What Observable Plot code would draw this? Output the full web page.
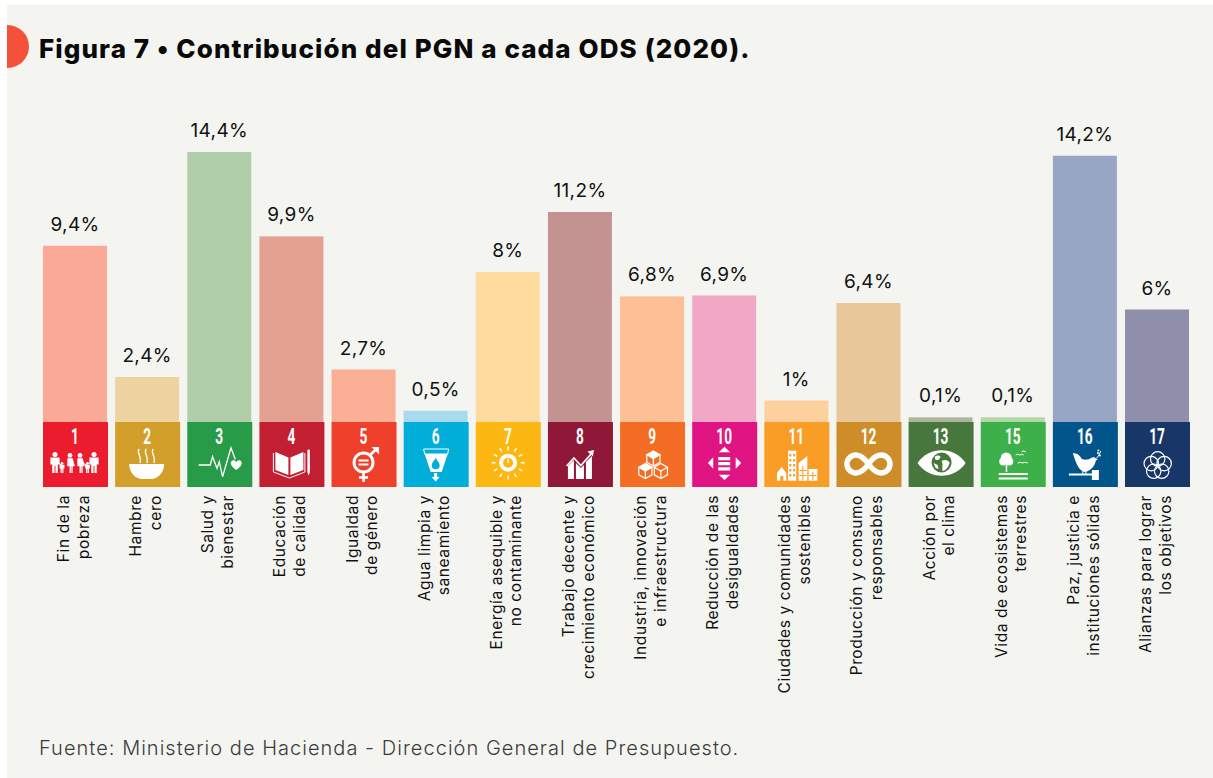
<!DOCTYPE html>
<html lang="es">
<head>
<meta charset="utf-8">
<script src="https://cdn.jsdelivr.net/npm/d3@7"></script>
<script src="https://cdn.jsdelivr.net/npm/@observablehq/plot@0.6"></script>
<style>
  html, body { margin: 0; padding: 0; background: #fff; width: 1213px; height: 778px; overflow: hidden; }
  #panel { position: absolute; left: 7px; top: 5px; width: 1206px; height: 773px; background: #f4f5f1; overflow: hidden; }
  #dot { position: absolute; left: -21.5px; top: 20px; width: 43px; height: 43px; border-radius: 50%; background: #f4503a; }
  #title { position: absolute; left: 32px; top: 28px; margin: 0; font: 800 26px Inter, sans-serif; letter-spacing: 1.1px; color: #0a0a0a; white-space: nowrap; }
  #source { position: absolute; left: 32px; top: 731px; margin: 0; font: 300 20px Inter, sans-serif; letter-spacing: 1.03px; color: #3c3c3c; white-space: nowrap; }
  #chart { position: absolute; left: 0; top: 0; }
  #chart svg { display: block; background: transparent; }
  .share-label text { letter-spacing: 0.35px; }
  .goal-name text { letter-spacing: 0.6px; }
</style>
</head>
<body>
<div id="panel">
  <div id="dot"></div>
  <h1 id="title">Figura 7 • Contribución del PGN a cada ODS (2020).</h1>
  <p id="source">Fuente: Ministerio de Hacienda - Dirección General de Presupuesto.</p>
</div>
<div id="chart"></div>
<script>
const goals = ["1","2","3","4","5","6","7","8","9","10","11","12","13","15","16","17"];
const shares = [9.4,2.4,14.4,9.9,2.8,0.6,8,11.2,6.7,6.75,1.15,6.35,0.25,0.25,14.2,6];
const shareLabels = ["9,4%","2,4%","14,4%","9,9%","2,7%","0,5%","8%","11,2%","6,8%","6,9%","1%","6,4%","0,1%","0,1%","14,2%","6%"];
const names = [
  "Fin de la\npobreza","Hambre\ncero","Salud y\nbienestar","Educación\nde calidad",
  "Igualdad\nde género","Agua limpia y\nsaneamiento","Energía asequible y\nno contaminante",
  "Trabajo decente y\ncrecimiento económico","Industria, innovación\ne infraestructura",
  "Reducción de las\ndesigualdades","Ciudades y comunidades\nsostenibles",
  "Producción y consumo\nresponsables","Acción por\nel clima","Vida de ecosistemas\nterrestres",
  "Paz, justicia e\ninstituciones sólidas","Alianzas para lograr\nlos objetivos"
];
const tileColors = ["#eb1c2d","#d19f2a","#279b48","#c31f33","#ef402b","#00aed9","#fdb713","#8f1838","#f36d25","#e11484","#f99d26","#cf8d2a","#48773e","#3eb049","#02558b","#183668"];
const barColors = ["#f9a995","#edd3a0","#b0ceaa","#e4a192","#fbb095","#a8d9ef","#fedb9f","#c39392","#fcbf96","#f0a8c6","#fdd19d","#e8c89a","#adb69c","#b3d8a5","#98a6c5","#8f8fab"];

const rows = goals.map((goal, i) => ({goal, share: shares[i], label: shareLabels[i], name: names[i], tile: tileColors[i], bar: barColors[i]}));

/* ---------- SDG pictograms, in a 65×65 tile-local system (white glyphs) ---------- */
const person = (cx, top, h, skirt) => {
  const r = h * 0.12, w = h * 0.22;
  const body = skirt
    ? `M${cx - w * .6} ${top + h * .26}h${w * 1.2}l${w * .5} ${h * .4}h${-w * .5}v${h * .34}h${-w * .3}v${-h * .34}h${-w * .1}v${h * .34}h${-w * .3}v${-h * .34}h${-w * .5}z`
    : `M${cx - w} ${top + h * .26}h${w * 2}v${h * .34}h${-w * .4}v${h * .4}h${-w * .5}v${-h * .34}h${-w * .2}v${h * .34}h${-w * .5}v${-h * .4}h${-w * .4}z`;
  return `<circle cx="${cx}" cy="${top + r}" r="${r}"/><path d="${body}"/>`;
};
const hexCube = (cx, cy, r, fillTop) => {
  const dx = r * 0.866, dy = r * 0.5;
  const top = `M${cx} ${cy - r}L${cx + dx} ${cy - dy}L${cx} ${cy}L${cx - dx} ${cy - dy}Z`;
  return `<path d="${top}" fill="${fillTop ? "#fff" : "none"}" stroke="#fff" stroke-width="1.2"/>` +
    `<path d="M${cx - dx} ${cy - dy}V${cy + dy}L${cx} ${cy + r}L${cx + dx} ${cy + dy}V${cy - dy}M${cx} ${cy}V${cy + r}" fill="none" stroke="#fff" stroke-width="1.2"/>`;
};
const sunRays = d3.range(12).map(i => {
  const a = i * Math.PI / 6, c = Math.cos(a), s = Math.sin(a);
  return `M${32.3 + 12.5 * c} ${40.7 + 12.5 * s}L${32.3 + 16.5 * c} ${40.7 + 16.5 * s}`;
}).join("");
const flower = d3.range(5).map(i => {
  const a = -Math.PI / 2 + i * 2 * Math.PI / 5;
  return `<circle cx="${32.7 + 6.8 * Math.cos(a)}" cy="${43.7 + 6.8 * Math.sin(a)}" r="7.2"/>`;
}).join("");
const icons = {
  "1": person(12, 30, 21) + person(27, 31, 20, true) + person(37, 31, 20, true) + person(51, 30, 21) + person(19, 40, 11) + person(44.5, 40, 11) +
       `<path d="M14 41L19 43M24 43L27 41M39 41L44 43M49 43L51 41" stroke="#fff" stroke-width="1"/>`,
  "2": `<path d="M14 42H49C49 51 42 57 36 57H27C21 57 14 51 14 42Z"/><path d="M24 27C21 31 27 34 25 41M31 27C28 31 34 34 32 41M38 27C35 31 41 34 39 41" fill="none" stroke="#fff" stroke-width="1.4"/>`,
  "3": `<path d="M11.3 43H23L25.3 34.7L29.7 46.3L32 39.7L35.3 54.7L43.7 25.7L48 37.3" fill="none" stroke="#fff" stroke-width="1.3"/><path d="M49 48C45 45 43.5 43 43.5 41C43.5 38 47.5 37 49 40C50.5 37 54.5 38 54.5 41C54.5 43 53 45 49 48Z"/>`,
  "4": `<path d="M16 30L29 35.5V53L16 48Z"/><path d="M31 35.5L44 30V48L31 53Z"/><path d="M14 31V50L30 56L45.5 50V31" fill="none" stroke="#fff" stroke-width="1"/><path d="M48 28.5A1.3 1.3 0 0 1 50.5 28.5V50L49.2 53.5L48 50Z"/>`,
  "5": `<circle cx="32" cy="40.5" r="9.5" fill="none" stroke="#fff" stroke-width="3"/><path d="M27 37.5H37V39.5H27ZM27 41.5H37V43.5H27Z"/><path d="M32 50V60M27.5 55.5H36.5" stroke="#fff" stroke-width="2.6" fill="none"/><path d="M38.5 33L46 26" stroke="#fff" stroke-width="2.8"/><path d="M40 25H47.5V32.5Z"/>`,
  "6": `<path d="M21 32H44L38 50H27Z"/><path d="M20 27H45L44 32H21Z" fill="none" stroke="#fff" stroke-width="1"/><path d="M30.5 51H33.5V55H36L32 59.5L28 55H30.5Z"/><path d="M32 36C30 39.5 28 41 28 43.3A4 4 0 0 0 36 43.3C36 41 34 39.5 32 36Z" fill="#00aed9"/>`,
  "7": `<circle cx="32.3" cy="40.7" r="9"/><circle cx="32.3" cy="40.7" r="5" fill="#fdb713"/><path d="M32.3 36.7V41" stroke="#fff" stroke-width="1.4"/><path d="${sunRays}" stroke="#fff" stroke-width="1.4" fill="none"/>`,
  "8": `<path d="M20 44L26 38V57H20ZM28 41L33 46L36 43V57H28ZM38 40L44 34V57H38Z"/><path d="M18.7 44L26 36L33 43.5L44 31" fill="none" stroke="#fff" stroke-width="1.8"/><path d="M39.5 29.5L46 28L45 34.5Z"/>`,
  "9": hexCube(33.3, 36.5, 7.6, true) + hexCube(25.3, 49, 7.6, true) + hexCube(40.8, 49, 7.6, false),
  "10": `<path d="M26 35H38V38.3H26ZM26 40H38V43.3H26ZM26 45.2H38V48.5H26Z"/><path d="M32.3 24.7L38 30.3H26.6ZM32.3 58L38 52.7H26.6ZM15.7 41L21 35.3V46.7ZM49 41L43.5 35.3V46.7Z"/>`,
  "11": `<path d="M12.7 51L17.3 45L22 51V58.7H19V54H16V58.7H12.7Z"/><path d="M23.7 28.7H32V58.7H23.7Z"/><path d="M34.3 41L43 34V58.7H34.3Z"/><path d="M44.3 47H53V58.7H44.3Z"/><path d="M25 32h2v2.5h-2zM28.8 32h2v2.5h-2zM25 37h2v2.5h-2zM28.8 37h2v2.5h-2zM25 42h2v2.5h-2zM28.8 42h2v2.5h-2zM25 47h2v2.5h-2zM28.8 47h2v2.5h-2zM25 52h2v2.5h-2zM28.8 52h2v2.5h-2zM38 44h1v14h-1zM35 48h7v1h-7zM35 53h7v1h-7zM48 50h1v8h-1zM45 53h7v1h-7z" fill="#f99d26"/>`,
  "12": `<path d="M32 42C27 35 23.5 33 19.5 33A9 9 0 0 0 19.5 51C24 51 27.5 48.5 32 42C36.5 35.5 40 33 44.5 33A9 9 0 0 1 44.5 51C40.5 51 37 49 32 42Z" fill="none" stroke="#fff" stroke-width="5.5"/>`,
  "13": `<path d="M9 41C20 24 46 24 57 41C46 58 20 58 9 41Z"/><circle cx="33" cy="40.5" r="10" fill="#48773e"/><path d="M26 35C28 33 31 33 32 35L30 38L27 38ZM33 39C36 37 40 38 41 41C40 45 37 49 34 49C33 46 35 43 33 39ZM25 41L29 43L30 47L27 46Z"/>`,
  "15": `<circle cx="25.5" cy="36" r="5.5"/><circle cx="22.5" cy="39.5" r="4"/><circle cx="28.5" cy="39.5" r="4"/><path d="M25 42H26.5V50H25ZM18 51H47V53H18ZM18 55.5H47V57.5H18Z"/><path d="M35 33Q37 31.5 39 33Q41 31.5 43 33M41 29.5Q43 28.5 45 30M37 41Q40 39.5 42 41Q44 39.5 47 41" fill="none" stroke="#fff" stroke-width="1"/>`,
  "16": `<path d="M20 31C24 31 27 33 29 37C32 38 36 38 38 36C40 35 42 35 43 36.5L45 37.5L43 38.5C42 44 38 49 32 50C26 49 23 41 20 31Z"/><path d="M30 49V52M33 49V52" stroke="#fff" stroke-width="1"/><path d="M43.5 36.5L47 32M46 33L48 29" stroke="#fff" stroke-width="1" fill="none"/><circle cx="45" cy="31" r="1"/><circle cx="47" cy="33.5" r="1"/><circle cx="45.5" cy="28.5" r="1"/><path d="M16 51.5H39V53.5H16ZM39 48H46V58H39Z"/>`,
  "17": `<g fill="none" stroke="#fff" stroke-width="1.2">${flower}</g>`
};

/* custom mark: one pictogram per goal, placed through the chart's own scales */
const iconMark = (index, {x, y}) => {
  const g = d3.create("svg:g").attr("fill", "#fff");
  for (const goal of goals) {
    g.append("g")
      .attr("transform", `translate(${x(goal)},${y(0)})`)
      .html(icons[goal]);
  }
  return g.node();
};

const pxPerUnit = 18.75;
const baseline = 422;
const tileDepth = -65 / pxPerUnit;

const chart = Plot.plot({
  width: 1213,
  height: 778,
  marginTop: 0, marginRight: 23, marginBottom: 0, marginLeft: 43,
  style: {background: "transparent", overflow: "visible"},
  x: {type: "band", domain: goals, paddingInner: 0.0988, paddingOuter: 0, round: false, axis: null},
  y: {type: "linear", domain: [0, 15], range: [baseline, baseline - 15 * pxPerUnit], axis: null},
  color: {type: "identity"},
  marks: [
    Plot.barY(rows, {x: "goal", y1: 0, y2: "share", fill: "bar", insetRight: 1}),
    Plot.barY(rows, {x: "goal", y1: tileDepth, y2: 0, fill: "tile"}),
    iconMark,
    Plot.text(rows, {x: "goal", y: 0, text: "goal", dy: 14, dx: -1, fill: "#fff", className: "tile-number", fontFamily: "Roboto, sans-serif", fontWeight: 700, fontSize: 22, lineAnchor: "middle"}),
    Plot.text(rows, {x: "goal", y: "share", text: "label", dy: -21.5, dx: -1, fill: "#111", className: "share-label", fontFamily: "Inter, sans-serif", fontWeight: 400, fontSize: 19, lineAnchor: "middle"}),
    Plot.text(rows, {x: "goal", y: tileDepth, text: "name", dy: 7.5, dx: -3.5, rotate: -90, textAnchor: "end", lineAnchor: "middle", lineHeight: 1.27, fill: "#111", className: "goal-name", fontFamily: "Inter, sans-serif", fontWeight: 400, fontSize: 15.5})
  ]
});
/* the tile numbers are set in a tall condensed face: narrow the real text horizontally */
d3.select(chart).selectAll(".tile-number text").attr("transform", function () {
  return (this.getAttribute("transform") || "") + " scale(.62,1)";
});
document.getElementById("chart").appendChild(chart);
</script>
</body>
</html>
